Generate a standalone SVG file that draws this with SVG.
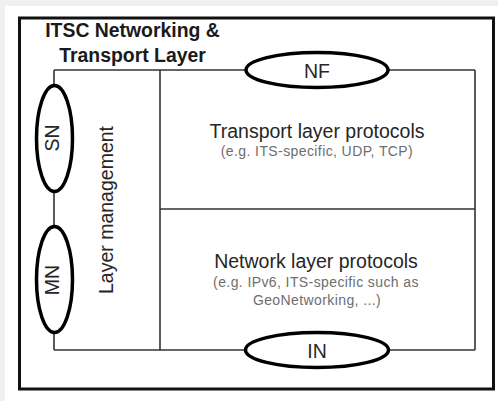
<svg xmlns="http://www.w3.org/2000/svg" width="498" height="401" viewBox="0 0 498 401">
<style>
.bg{fill:#f0f0f0}
.frame{fill:none;stroke:#111;stroke-width:3}
.ln{fill:none;stroke:#333;stroke-width:1.6}
.ell{fill:#fff;stroke:#000;stroke-width:3.5}
.t{font-family:"Liberation Sans",Arial,sans-serif;fill:#262626;text-anchor:middle}
.title{font-size:19.4px;font-weight:bold;fill:#1a1a1a}
.big{font-size:19.5px}
.small{font-size:14px;fill:#6e6e6e;letter-spacing:0.4px}
</style>
<rect class="bg" x="0" y="0" width="498" height="401"/>
<rect x="5" y="6" width="493" height="395" fill="#fff"/>
<path class="frame" d="M19.5 18 H493.5 V389 H19.5 Z"/>
<g id="title">
<text class="t title" x="132.5" y="37">ITSC Networking &amp;</text>
<text class="t title" x="132.5" y="62">Transport Layer</text>
</g>
<g id="connectors">
<line class="ln" x1="54" y1="70" x2="475" y2="70"/>
<line class="ln" x1="475" y1="70" x2="475" y2="350"/>
<line class="ln" x1="54" y1="350" x2="475" y2="350"/>
<line class="ln" x1="54" y1="70" x2="54" y2="350"/>
<line class="ln" x1="160" y1="70" x2="160" y2="350"/>
<line class="ln" x1="160" y1="209" x2="475" y2="209"/>
</g>
<g id="layer-management">
<text class="t big" transform="translate(113,210) rotate(-90)">Layer management</text>
</g>
<g id="transport">
<text class="t big" x="317" y="138">Transport layer protocols</text>
<text class="t small" x="317" y="156">(e.g. ITS-specific, UDP, TCP)</text>
</g>
<g id="network">
<text class="t big" x="316" y="268">Network layer protocols</text>
<text class="t small" x="316" y="287">(e.g. IPv6, ITS-specific such as</text>
<text class="t small" x="317" y="305">GeoNetworking, ...)</text>
</g>
<g id="SN">
<ellipse class="ell" cx="54.5" cy="138.5" rx="18" ry="53"/>
<text class="t big" transform="translate(59,138) rotate(-90)">SN</text>
</g>
<g id="MN">
<ellipse class="ell" cx="54.5" cy="279.5" rx="18" ry="53"/>
<text class="t big" transform="translate(59,280) rotate(-90)">MN</text>
</g>
<g id="NF">
<ellipse class="ell" cx="317" cy="70" rx="71" ry="17.5"/>
<text class="t big" x="317" y="77.5">NF</text>
</g>
<g id="IN">
<ellipse class="ell" cx="317" cy="350" rx="71.5" ry="17.5"/>
<text class="t big" x="317" y="357.5">IN</text>
</g>
</svg>
